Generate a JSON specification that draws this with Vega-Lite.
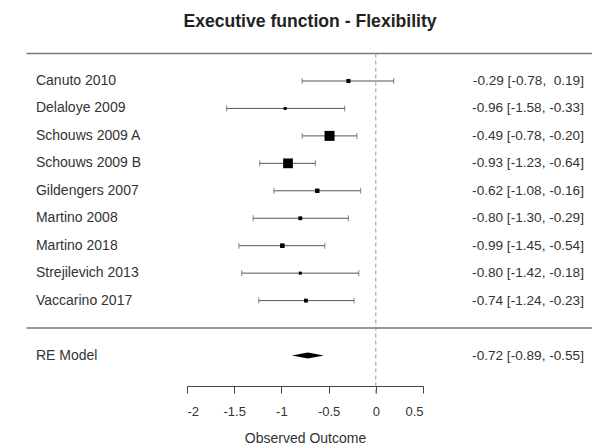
{
  "$schema": "https://vega.github.io/schema/vega-lite/v6.json",
  "width": 236,
  "height": 334,
  "autosize": {"type": "none"},
  "padding": {"left": 187, "top": 52, "right": 169, "bottom": 59},
  "background": "white",
  "config": {"view": {"stroke": null}, "font": "Liberation Sans"},
  "title": {
    "text": "Executive function - Flexibility",
    "font": "Liberation Sans",
    "fontSize": 17.6,
    "fontWeight": "bold",
    "color": "#222",
    "anchor": "middle",
    "frame": "group",
    "dx": 5,
    "offset": 21
  },
  "datasets": {
    "studies": [
      {"study": "Canuto 2010", "row": 9, "estimate": -0.29, "lower": -0.78, "upper": 0.19, "weight": 8.5, "ci": "-0.29 [-0.78, \u00a00.19]"},
      {"study": "Delaloye 2009", "row": 8, "estimate": -0.96, "lower": -1.58, "upper": -0.33, "weight": 5.1, "ci": "-0.96 [-1.58, -0.33]"},
      {"study": "Schouws 2009 A", "row": 7, "estimate": -0.49, "lower": -0.78, "upper": -0.20, "weight": 23.6, "ci": "-0.49 [-0.78, -0.20]"},
      {"study": "Schouws 2009 B", "row": 6, "estimate": -0.93, "lower": -1.23, "upper": -0.64, "weight": 23.0, "ci": "-0.93 [-1.23, -0.64]"},
      {"study": "Gildengers 2007", "row": 5, "estimate": -0.62, "lower": -1.08, "upper": -0.16, "weight": 9.4, "ci": "-0.62 [-1.08, -0.16]"},
      {"study": "Martino 2008", "row": 4, "estimate": -0.80, "lower": -1.30, "upper": -0.29, "weight": 7.7, "ci": "-0.80 [-1.30, -0.29]"},
      {"study": "Martino 2018", "row": 3, "estimate": -0.99, "lower": -1.45, "upper": -0.54, "weight": 9.8, "ci": "-0.99 [-1.45, -0.54]"},
      {"study": "Strejilevich 2013", "row": 2, "estimate": -0.80, "lower": -1.42, "upper": -0.18, "weight": 5.2, "ci": "-0.80 [-1.42, -0.18]"},
      {"study": "Vaccarino 2017", "row": 1, "estimate": -0.74, "lower": -1.24, "upper": -0.23, "weight": 7.7, "ci": "-0.74 [-1.24, -0.23]"}
    ],
    "re": [
      {"study": "RE Model", "row": -1, "estimate": -0.72, "lower": -0.89, "upper": -0.55, "ci": "-0.72 [-0.89, -0.55]"}
    ],
    "separators": [
      {"row": 10},
      {"row": 0}
    ]
  },
  "layer": [
    {
      "data": {"name": "studies"},
      "mark": {"type": "rule", "stroke": "#555", "strokeWidth": 1},
      "encoding": {
        "x": {
          "field": "lower",
          "type": "quantitative",
          "scale": {"domain": [-2, 0.5], "nice": false, "zero": false},
          "axis": {
            "values": [-2, -1.5, -1, -0.5, 0, 0.5],
            "title": "Observed Outcome",
            "grid": false,
            "labelExpr": "datum.value + ''",
            "labelFont": "Liberation Sans",
            "labelFontSize": 13,
            "labelColor": "#333",
            "labelPadding": 12,
            "tickSize": 7,
            "tickColor": "#444",
            "domainColor": "#444",
            "titleFont": "Liberation Sans",
            "titleFontSize": 14,
            "titleFontWeight": "normal",
            "titleColor": "#333",
            "titlePadding": 13
          }
        },
        "x2": {"field": "upper"},
        "y": {
          "field": "row",
          "type": "quantitative",
          "scale": {"domain": [-2.111, 10.056], "nice": false, "zero": false},
          "axis": null
        }
      }
    },
    {
      "data": {"name": "separators"},
      "mark": {"type": "rule", "stroke": "#777", "strokeWidth": 1.5},
      "encoding": {
        "x": {"datum": -3.7, "type": "quantitative"},
        "x2": {"datum": 2.3},
        "y": {"field": "row", "type": "quantitative"}
      }
    },
    {
      "data": {"values": [{"ref": 0}]},
      "mark": {"type": "rule", "stroke": "#999", "strokeWidth": 1, "strokeDash": [4, 3]},
      "encoding": {
        "x": {"field": "ref", "type": "quantitative"},
        "y": {"datum": 10, "type": "quantitative"},
        "y2": {"datum": -2.44}
      }
    },
    {
      "data": {"name": "studies"},
      "mark": {"type": "tick", "orient": "vertical", "color": "#555", "thickness": 1, "size": 6},
      "encoding": {
        "x": {"field": "lower", "type": "quantitative"},
        "y": {"field": "row", "type": "quantitative"}
      }
    },
    {
      "data": {"name": "studies"},
      "mark": {"type": "tick", "orient": "vertical", "color": "#555", "thickness": 1, "size": 6},
      "encoding": {
        "x": {"field": "upper", "type": "quantitative"},
        "y": {"field": "row", "type": "quantitative"}
      }
    },
    {
      "data": {"name": "studies"},
      "mark": {"type": "point", "shape": "square", "filled": true, "color": "black", "opacity": 1},
      "encoding": {
        "x": {"field": "estimate", "type": "quantitative"},
        "y": {"field": "row", "type": "quantitative"},
        "size": {
          "field": "weight",
          "type": "quantitative",
          "scale": {"type": "pow", "exponent": 2, "domain": [5.1, 23.6], "range": [9, 100]},
          "legend": null
        }
      }
    },
    {
      "data": {"name": "re"},
      "mark": {"type": "point", "shape": "M-1,0L0,-0.19L1,0L0,0.19Z", "filled": true, "color": "black", "opacity": 1, "size": 1030},
      "encoding": {
        "x": {"field": "estimate", "type": "quantitative"},
        "y": {"field": "row", "type": "quantitative"}
      }
    },
    {
      "data": {"name": "studies"},
      "mark": {"type": "text", "align": "left", "baseline": "middle", "font": "Liberation Sans", "fontSize": 14, "color": "#333"},
      "encoding": {
        "x": {"datum": -3.6, "type": "quantitative"},
        "y": {"field": "row", "type": "quantitative"},
        "text": {"field": "study"}
      }
    },
    {
      "data": {"name": "studies"},
      "mark": {"type": "text", "align": "right", "baseline": "middle", "font": "Liberation Sans", "fontSize": 13.6, "color": "#333"},
      "encoding": {
        "x": {"datum": 2.205, "type": "quantitative"},
        "y": {"field": "row", "type": "quantitative"},
        "text": {"field": "ci"}
      }
    },
    {
      "data": {"name": "re"},
      "mark": {"type": "text", "align": "left", "baseline": "middle", "font": "Liberation Sans", "fontSize": 14, "color": "#333"},
      "encoding": {
        "x": {"datum": -3.6, "type": "quantitative"},
        "y": {"field": "row", "type": "quantitative"},
        "text": {"field": "study"}
      }
    },
    {
      "data": {"name": "re"},
      "mark": {"type": "text", "align": "right", "baseline": "middle", "font": "Liberation Sans", "fontSize": 13.6, "color": "#333"},
      "encoding": {
        "x": {"datum": 2.205, "type": "quantitative"},
        "y": {"field": "row", "type": "quantitative"},
        "text": {"field": "ci"}
      }
    }
  ]
}
